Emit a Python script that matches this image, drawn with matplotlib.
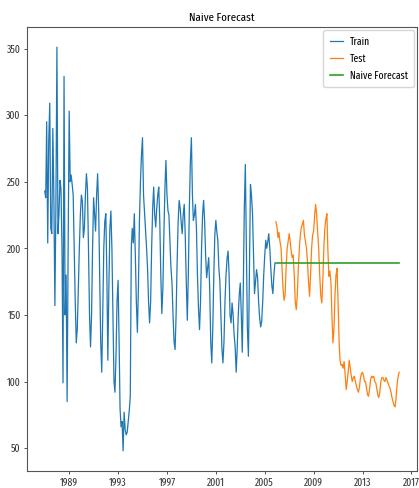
import matplotlib
matplotlib.use('Agg')
import matplotlib.pyplot as plt
import matplotlib.dates as mdates
import numpy as np
import pandas as pd
from datetime import datetime

# monthly values
train_values = [243, 238, 295, 204, 280, 309, 215, 211, 290, 240, 157, 230,
                351, 211, 225, 251, 245, 200, 99, 329, 150, 180, 85, 200,
                303, 250, 255, 248, 240, 200, 160, 129, 140, 170, 200, 225,
                240, 235, 208, 215, 240, 256, 245, 200, 150, 126, 150, 200,
                238, 225, 213, 240, 256, 230, 180, 130, 107, 150, 200, 220,
                226, 180, 116, 170, 215, 228, 200, 150, 100, 92, 120, 160,
                176, 130, 80, 66, 70, 48, 77, 64, 60, 62, 70, 78,
                89, 201, 215, 204, 226, 195, 160, 137, 170, 220, 250, 270,
                283, 240, 228, 215, 201, 185, 160, 144, 160, 200, 230, 246,
                225, 216, 230, 240, 246, 220, 180, 151, 170, 210, 245, 266,
                240, 228, 225, 205, 185, 174, 150, 130, 124, 150, 190, 220,
                236, 230, 220, 211, 225, 233, 210, 175, 146, 180, 230, 265,
                283, 240, 221, 225, 233, 215, 180, 155, 139, 160, 200, 225,
                236, 220, 195, 178, 185, 193, 170, 130, 114, 140, 180, 210,
                221, 212, 206, 185, 175, 150, 125, 114, 130, 160, 180, 192,
                198, 180, 150, 144, 159, 150, 135, 126, 107, 125, 150, 165,
                174, 150, 122, 170, 230, 263, 200, 140, 119, 180, 248, 240,
                226, 195, 166, 175, 184, 178, 160, 148, 141, 145, 160, 180,
                195, 206, 200, 205, 211, 200, 185, 172, 166, 180, 189]

test_values = [220, 216, 208, 212, 205, 201, 185, 170, 161, 165, 185, 200,
               205, 211, 205, 198, 193, 195, 180, 160, 154, 165, 185, 200,
               210, 216, 218, 221, 210, 205, 200, 190, 175, 164, 180, 200,
               210, 213, 225, 233, 225, 212, 200, 180, 165, 159, 175, 200,
               215, 222, 226, 200, 179, 183, 175, 150, 129, 140, 165, 180,
               185, 160, 130, 116, 112, 113, 110, 115, 105, 94, 100, 108,
               116, 110, 104, 100, 103, 104, 100, 97, 94, 92, 96, 103,
               106, 107, 104, 100, 100, 95, 90, 89, 95, 102, 104, 103,
               104, 100, 99, 95, 90, 88, 92, 100, 103, 103, 101, 100,
               103, 101, 99, 97, 95, 92, 88, 85, 82, 81, 88, 98,
               104, 107]

train_dates = pd.date_range('1987-01-01', periods=len(train_values), freq='MS')
test_dates = pd.date_range(train_dates[-1] + pd.DateOffset(months=1),
                           periods=len(test_values), freq='MS')

train = pd.Series(train_values, index=train_dates)
test = pd.Series(test_values, index=test_dates)

# naive forecast: last train value repeated
naive = pd.Series(train.iloc[-1], index=test.index)

tick_years = [1989, 1993, 1997, 2001, 2005, 2009, 2013, 2017]

# the reference text is very narrow
plt.rcParams['font.family'] = ['Fira Sans Extra Condensed', 'DejaVu Sans']

fig = plt.figure(figsize=(4.19, 4.88), dpi=100)
ax = fig.add_axes([0.0644, 0.0348, 0.9306, 0.9099])

ax.plot(train.index, train.values, color='#1f77b4', lw=0.9, label='Train')
ax.plot(test.index, test.values, color='#ff7f0e', lw=0.9, label='Test')
ax.plot(naive.index, naive.values, color='#2ca02c', lw=1.2, label='Naive Forecast')

ax.set_xticks([mdates.date2num(datetime(y, 1, 1)) for y in tick_years])
ax.xaxis.set_major_formatter(mdates.DateFormatter('%Y'))
ax.set_yticks([50, 100, 150, 200, 250, 300, 350])
ax.tick_params(labelsize=7.5, length=2.5, width=0.6, pad=2, colors='#333333')

for s in ax.spines.values():
    s.set_linewidth(0.8)
    s.set_color('#555555')

ax.set_title('Naive Forecast', fontsize=8.5, pad=4)
ax.legend(loc='upper right', fontsize=7.5, handlelength=1.3, handletextpad=0.6,
          borderpad=0.6, labelspacing=0.6, borderaxespad=0.3)

fig.savefig('out.png', dpi=100)
